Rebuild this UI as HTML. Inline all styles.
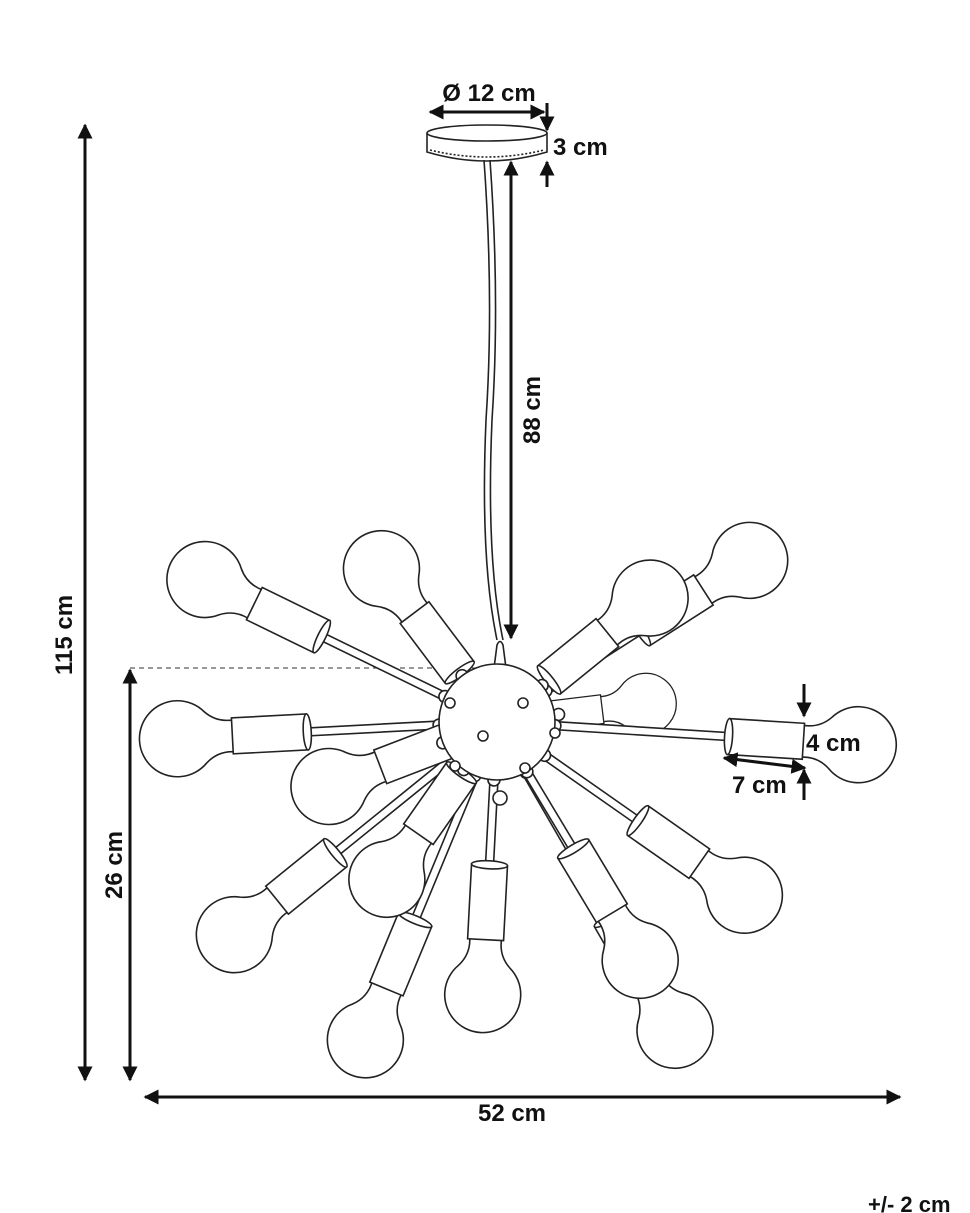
<!DOCTYPE html>
<html><head><meta charset="utf-8"><style>
html,body{margin:0;padding:0;background:#fff;}
svg{display:block;}
text{font-family:"Liberation Sans",sans-serif;font-weight:bold;fill:#111;}
</style></head><body>
<svg width="970" height="1213" viewBox="0 0 970 1213" xmlns="http://www.w3.org/2000/svg">
<defs>
<marker id="ah" viewBox="0 0 10 10" refX="9" refY="5" markerWidth="5" markerHeight="5" orient="auto-start-reverse" markerUnits="strokeWidth">
<path d="M0,0 L10,5 L0,10 z" fill="#111"/></marker>
<g id="bulb">
<path d="M-57,-16 Q-40,-14 -28,-25.7 A38 38 0 1 1 -28,25.7 Q-40,14 -57,16 z"/>
<rect x="-130" y="-18" width="75" height="36"/>
<ellipse cx="-130" cy="0" rx="4" ry="18"/>
</g>
</defs>

<g stroke="#222" stroke-width="1.6" fill="#fff">
<path d="M427,133 L427,152 Q487,170 547,152 L547,133"/>
<ellipse cx="487" cy="133" rx="60" ry="8"/>
<path d="M430,150 Q487,164 544,150" stroke-dasharray="2 2" fill="none"/>
<path d="M484,160 Q494,300 486,420 Q480,560 497,640" fill="none"/>
<path d="M490,160 Q500,300 492,420 Q486,560 503,640" fill="none"/>
</g>

<line x1="130" y1="668" x2="495" y2="668" stroke="#333" stroke-width="1" stroke-dasharray="5 4"/>

<g stroke="#222" stroke-width="1.6" fill="#fff">
<g transform="translate(497 722) rotate(233)"><rect x="52" y="-4" width="10" height="8"/><use href="#bulb" transform="translate(192 0)"/><circle cx="58" r="6"/></g>
<g transform="translate(497 722) rotate(206)"><rect x="52" y="-4" width="143" height="8"/><use href="#bulb" transform="translate(325 0)"/><circle cx="58" r="6"/></g>
<g transform="translate(497 722) rotate(-32.6)"><rect x="52" y="-4" width="118" height="8"/><use href="#bulb" transform="translate(300 0)"/><circle cx="58" r="6"/></g>
<g transform="translate(497 722) rotate(-39)"><rect x="52" y="-4" width="15" height="8"/><use href="#bulb" transform="translate(197 0)"/><circle cx="58" r="6"/></g>
<g transform="translate(497 722) rotate(-7)"><use href="#bulb" transform="translate(150 0) scale(0.8)"/><circle cx="62" r="6"/></g>
<g transform="translate(497 722) rotate(177)"><rect x="52" y="-4" width="138" height="8"/><use href="#bulb" transform="translate(320 0)"/><circle cx="58" r="6"/></g>
<g transform="translate(497 722) rotate(141)"><rect x="52" y="-4" width="156" height="8"/><use href="#bulb" transform="translate(338 0)"/><circle cx="58" r="6"/></g>
<g transform="translate(497 722) rotate(112.5)"><rect x="52" y="-4" width="162" height="8"/><use href="#bulb" transform="translate(344 0)"/><circle cx="58" r="6"/></g>
<g transform="translate(497 722) rotate(60)"><rect x="52" y="-4" width="174" height="8"/><use href="#bulb" transform="translate(356 0)"/><circle cx="58" r="6"/></g>
<g transform="translate(497 722) rotate(125)"><rect x="52" y="-4" width="10" height="8"/><use href="#bulb" transform="translate(192 0)"/><circle cx="58" r="6"/></g>
<g transform="translate(497 722) rotate(93)"><rect x="52" y="-4" width="91" height="8"/><use href="#bulb" transform="translate(273 0)"/><circle cx="58" r="6"/></g>
<g transform="translate(497 722) rotate(59)"><rect x="52" y="-4" width="96" height="8"/><use href="#bulb" transform="translate(278 0)"/><circle cx="58" r="6"/></g>
<g transform="translate(497 722) rotate(35)"><rect x="52" y="-4" width="120" height="8"/><use href="#bulb" transform="translate(302 0)"/><circle cx="58" r="6"/></g>
<g transform="translate(497 722) rotate(3.6)"><rect x="52" y="-4" width="180" height="8"/><use href="#bulb" transform="translate(362 0)"/><circle cx="58" r="6"/></g>
<g transform="translate(497 722) rotate(159)"><use href="#bulb" transform="translate(180 0)"/><circle cx="58" r="6"/></g>
</g>

<g stroke="#222" stroke-width="1.6" fill="#fff">
<path d="M494,668 L497,645 Q500,638 503,645 L506,668 z"/>
<circle cx="497" cy="722" r="58"/>
<circle cx="450" cy="703" r="5"/><circle cx="523" cy="703" r="5"/>
<circle cx="483" cy="736" r="5"/><circle cx="555" cy="733" r="5"/>
<circle cx="455" cy="766" r="5"/><circle cx="525" cy="768" r="5"/>
<circle cx="500" cy="798" r="7"/>
</g>

<g stroke="#111" stroke-width="3" fill="none">
<line x1="430" y1="112" x2="544" y2="112" marker-start="url(#ah)" marker-end="url(#ah)"/>
<line x1="547" y1="103" x2="547" y2="130" marker-end="url(#ah)"/>
<line x1="547" y1="187" x2="547" y2="162" marker-end="url(#ah)"/>
<line x1="511" y1="162" x2="511" y2="638" marker-start="url(#ah)" marker-end="url(#ah)"/>
<line x1="85" y1="125" x2="85" y2="1080" marker-start="url(#ah)" marker-end="url(#ah)"/>
<line x1="130" y1="670" x2="130" y2="1080" marker-start="url(#ah)" marker-end="url(#ah)"/>
<line x1="145" y1="1097" x2="900" y2="1097" marker-start="url(#ah)" marker-end="url(#ah)"/>
<line x1="804" y1="684" x2="804" y2="716" marker-end="url(#ah)"/>
<line x1="804" y1="800" x2="804" y2="770" marker-end="url(#ah)"/>
<line x1="724" y1="758" x2="805" y2="768" marker-start="url(#ah)" marker-end="url(#ah)"/>
</g>

<text x="489" y="101" font-size="24" text-anchor="middle">Ø 12 cm</text>
<text x="553" y="155" font-size="24">3 cm</text>
<text x="0" y="0" font-size="24" text-anchor="middle" transform="translate(540 410) rotate(-90)">88 cm</text>
<text x="0" y="0" font-size="24" text-anchor="middle" transform="translate(72 635) rotate(-90)">115 cm</text>
<text x="0" y="0" font-size="24" text-anchor="middle" transform="translate(122 865) rotate(-90)">26 cm</text>
<text x="512" y="1121" font-size="24" text-anchor="middle">52 cm</text>
<text x="806" y="751" font-size="24">4 cm</text>
<text x="732" y="793" font-size="24">7 cm</text>
<text x="868" y="1212" font-size="22">+/- 2 cm</text>
</svg>
</body></html>
